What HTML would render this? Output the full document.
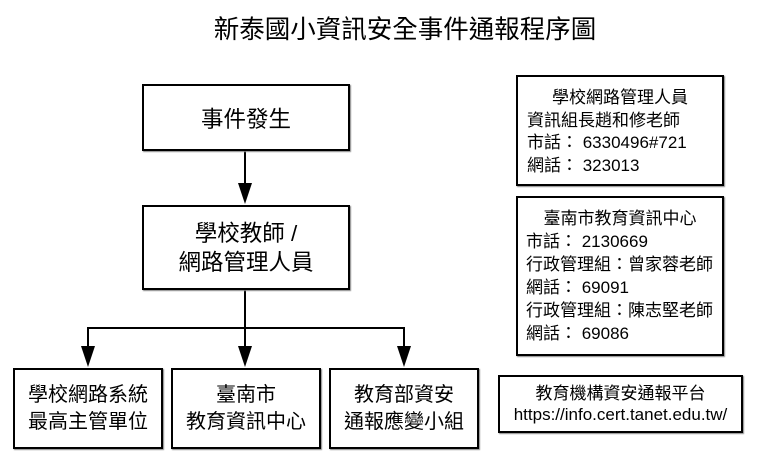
<!DOCTYPE html>
<html><head><meta charset="utf-8"><style>
body{margin:0;width:768px;height:466px;background:#fff;position:relative;overflow:hidden;font-family:"Liberation Sans","Noto Sans CJK TC",sans-serif;color:#000}
.b{position:absolute;border:2px solid #000;box-sizing:border-box;box-shadow:1px 1px 1px #888}
.c{display:flex;flex-direction:column;align-items:center;justify-content:center;text-align:center}
.t{position:absolute;white-space:nowrap}
</style></head><body>
<div class="t" style="left:0;width:810px;top:14px;text-align:center;font-size:25.5px;line-height:32px">新泰國小資訊安全事件通報程序圖</div>
<svg width="768" height="466" style="position:absolute;left:0;top:0">
<g stroke="#000" stroke-width="2" fill="none">
<line x1="245" y1="150" x2="245" y2="190"/>
<line x1="245" y1="289" x2="245" y2="350"/>
<polyline points="88,352 88,328 404,328 404,352"/>
</g>
<g fill="#000">
<polygon points="238,183 252,183 245,204"/>
<polygon points="81,346 95,346 88,367"/>
<polygon points="238,346 252,346 245,367"/>
<polygon points="397,346 411,346 404,367"/>
</g>
</svg>
<div class="b c" style="left:142px;top:84px;width:208px;height:67px;font-size:22.5px">事件發生</div>
<div class="b c" style="left:142px;top:205px;width:208px;height:85px;font-size:22.5px;line-height:29px">學校教師 /<br>網路管理人員</div>
<div class="b c" style="left:13px;top:368px;width:150px;height:81px;font-size:20px;line-height:27px">學校網路系統<br>最高主管單位</div>
<div class="b c" style="left:171px;top:368px;width:150px;height:81px;font-size:20px;line-height:27px">臺南市<br>教育資訊中心</div>
<div class="b c" style="left:329px;top:368px;width:150px;height:81px;font-size:20px;line-height:27px">教育部資安<br>通報應變小組</div>
<div class="b" style="left:516px;top:75px;width:208px;height:111px;font-size:17px;line-height:22.7px;padding:10px 0 0 9px">
<div style="text-align:center;margin-right:9px">學校網路管理人員</div>資訊組長趙和修老師<br>市話： 6330496#721<br>網話： 323013</div>
<div class="b" style="left:516px;top:196px;width:208px;height:160px;font-size:17px;line-height:23px;padding:9px 0 0 8px;white-space:nowrap">
<div style="text-align:center;margin-right:8px">臺南市教育資訊中心</div>市話： 2130669<br>行政管理組：曾家蓉老師<br>網話： 69091<br>行政管理組：陳志堅老師<br>網話： 69086</div>
<div class="b c" style="left:498px;top:375px;width:245px;height:58px;font-size:17px;line-height:21px">教育機構資安通報平台<br>https://info.cert.tanet.edu.tw/</div>
</body></html>
